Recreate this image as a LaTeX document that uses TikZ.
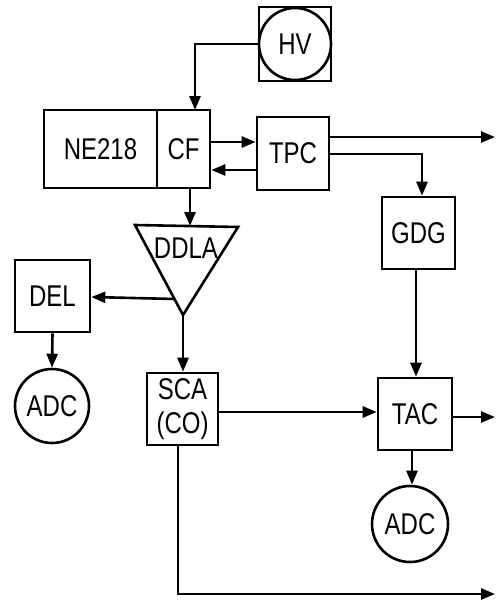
\documentclass[tikz,border=0pt]{standalone}
\usepackage{fontspec}
\setmainfont{Liberation Sans}[FakeStretch=0.8]
\usetikzlibrary{arrows.meta}
\begin{document}
\begin{tikzpicture}[x=1pt,y=-1pt,line width=2.6pt,
  >={Triangle[length=14pt,width=11pt]},
  lbl/.style={font=\fontsize{30}{34}\selectfont},
  blk/.style={draw,rectangle,inner sep=0pt,lbl},
  rnd/.style={draw,circle,inner sep=0pt,minimum size=#1,lbl}]
\useasboundingbox (0,0) rectangle (498,613);
% nodes
\node[blk,minimum width=72pt,minimum height=74pt] (hvbox) at (295,44) {};
\node[rnd=72pt] (hv) at (295,44) {HV};
\node[blk,minimum width=113pt,minimum height=78pt] (ne) at (100.5,149) {NE218};
\node[blk,minimum width=53pt,minimum height=78pt] (cf) at (183.5,149) {CF};
\node[blk,minimum width=72pt,minimum height=73pt] (tpc) at (293,153.5) {TPC};
\node[blk,minimum width=73pt,minimum height=72pt] (gdg) at (418.5,233) {GDG};
\node[blk,minimum width=74pt,minimum height=72pt] (tac) at (415,414) {TAC};
\node[rnd=76pt] (adcr) at (410,524) {ADC};
\node[blk,minimum width=75pt,minimum height=72pt] (del) at (52.5,296) {DEL};
\node[rnd=74pt] (adcl) at (52,406) {ADC};
\node[blk,minimum width=71pt,minimum height=72pt,align=center] (sca) at (182.5,409) {SCA\\(CO)};
% DDLA triangle
\coordinate (dtl) at (135,225);
\coordinate (dtr) at (238,227);
\coordinate (dbt) at (183,315);
\draw[line join=miter] (dtl) -- (dtr) -- (dbt) -- cycle;
\node[lbl] (ddla) at (186,248) {DDLA};
\coordinate (ddlain) at (190,226);
\coordinate (ddlaleft) at (175,299);
% free ends
\coordinate (cfin) at (195,110);
\coordinate (out1) at (495,137);
\coordinate (out2) at (495,417);
\coordinate (out3) at (495,594);
% connectors
\draw[->] (hvbox.west) -| (cfin);
\draw[->] ([yshift=7pt]cf.east) -- ([yshift=11.5pt]tpc.west);
\draw[->] ([yshift=-16.5pt]tpc.west) -- ([yshift=-21pt]cf.east);
\draw[->] ([yshift=16.5pt]tpc.east) -- (out1);
\draw[->] ([yshift=-0.5pt]tpc.east) -| ([xshift=3.5pt]gdg.north);
\draw[->] ([xshift=-2.5pt]gdg.south) -- ([xshift=1pt]tac.north);
\draw[->] ([yshift=-3pt]tac.east) -- (out2);
\draw[->] ([xshift=-3pt]tac.south) -- ([xshift=2pt]adcr.north);
\draw[->] ([xshift=6.5pt]cf.south) -- (ddlain);
\draw[->] (ddlaleft) -- ([yshift=-1pt]del.east);
\draw[->] (del.south) -- (adcl.north);
\draw[->] (dbt) -- ([xshift=0.5pt]sca.north);
\draw[->] ([yshift=-3pt]sca.east) -- ([yshift=2pt]tac.west);
\draw[->] ([xshift=-4.5pt]sca.south) |- (out3);
\end{tikzpicture}
\end{document}
